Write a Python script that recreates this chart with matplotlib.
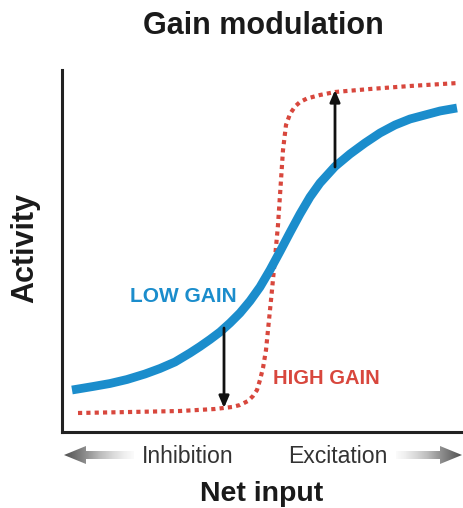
import numpy as np
import matplotlib
matplotlib.use("Agg")
import matplotlib.pyplot as plt
from matplotlib.patches import Polygon

plt.rcParams["font.family"] = ["Liberation Sans", "DejaVu Sans"]

# curves (arbitrary units: net input 0-402, activity 0-362)
low_x = [10, 31, 48, 65, 83, 98, 113, 128, 138, 148, 158, 168, 178, 188, 198,
         208, 218, 228, 238, 248, 258, 273, 288, 303, 318, 333, 348, 363, 378,
         395]
low_y = [42, 45.5, 48.5, 52.5, 58, 63.5, 70, 79, 85.5, 92.5, 100, 109, 119,
         131, 145, 162, 180.5, 199.5, 218, 235, 249, 265.5, 278, 289, 299, 307,
         313, 317, 321, 324]
high_x = [16, 68, 118, 153, 170, 178, 186, 191, 195, 198, 201, 204, 207, 210,
          213, 216, 218, 220, 221, 224, 228, 233, 238, 245, 258, 273, 308, 348,
          396]
high_y = [19, 20, 21, 23, 25, 27, 31, 36, 42, 52, 64, 82, 112, 142,
          174, 207, 237, 267, 282, 307, 318, 325.5, 330, 333.5, 337, 340, 343,
          346, 349]

# gain-change arrows: x, from (low gain), to (high gain)
arrow_x = [162, 273]
arrow_from = [104, 265]
arrow_to = [24, 342]

BLUE = "#1b8dcc"
RED = "#d8473d"
W, H = 464, 508

fig = plt.figure(figsize=(W / 100, H / 100), dpi=100)
ax = fig.add_axes([62 / W, 76 / H, 402 / W, 362 / H])
ax.set_xlim(0, 402)
ax.set_ylim(0, 362)

ax.plot(low_x, low_y, color=BLUE, lw=6.3, solid_capstyle="butt",
        solid_joinstyle="round", zorder=3)
ax.plot(high_x, high_y, color=RED, lw=3, linestyle=(0, (1, 1)),
        dash_capstyle="butt", zorder=2)

for x, y0, y1 in zip(arrow_x, arrow_from, arrow_to):
    ax.annotate("", xy=(x, y1), xytext=(x, y0),
                arrowprops=dict(arrowstyle="-|>,head_length=0.7,head_width=0.3",
                                color="#111111", lw=2, shrinkA=0, shrinkB=0),
                zorder=4)

ax.text(121, 135, "LOW GAIN", color=BLUE, fontsize=15, fontweight="bold",
        ha="center", va="center")
ax.text(264, 53, "HIGH GAIN", color=RED, fontsize=14.5, fontweight="bold",
        ha="center", va="center")

for side in ("top", "right"):
    ax.spines[side].set_visible(False)
for side in ("left", "bottom"):
    ax.spines[side].set_linewidth(2.2)
    ax.spines[side].set_color("#222222")
ax.set_xticks([])
ax.set_yticks([])

# labels
fig.text(263 / W, 1 - 34 / H, "Gain modulation", fontsize=22,
         fontweight="bold", ha="center", va="baseline", color="#1a1a1a")
fig.text(262 / W, 1 - 501 / H, "Net input", fontsize=20.5,
         fontweight="bold", ha="center", va="baseline", color="#1a1a1a")
fig.text(25 / W, 1 - 248 / H, "Activity", fontsize=22, rotation=90,
         fontweight="bold", ha="center", va="center", color="#1a1a1a")
fig.text(188 / W, 1 - 463 / H, "Inhibition", fontsize=16.6,
         ha="center", va="baseline", color="#333333")
fig.text(338 / W, 1 - 463 / H, "Excitation", fontsize=16.6,
         ha="center", va="baseline", color="#333333")

# grey gradient arrows under the axis
ov = fig.add_axes([0, 0, 1, 1], zorder=-1)
ov.set_xlim(0, W)
ov.set_ylim(H, 0)
ov.axis("off")


def grad_arrow(x_tip, x_tail, yc):
    d = 1 if x_tail > x_tip else -1
    head = 22
    pts = [(x_tip, yc), (x_tip + d * head, yc - 9), (x_tip + d * head, yc - 4),
           (x_tail, yc - 4), (x_tail, yc + 4), (x_tip + d * head, yc + 4),
           (x_tip + d * head, yc + 9)]
    poly = Polygon(pts, closed=True, facecolor="none", edgecolor="none")
    ov.add_patch(poly)
    g = np.linspace(0, 1, 256)[None, :]
    if d < 0:
        g = g[:, ::-1]
    x0, x1 = sorted((x_tip, x_tail))
    im = ov.imshow(g, cmap="Greys_r", vmin=-0.35, vmax=1.05, aspect="auto",
                   extent=(x0, x1, yc + 10, yc - 10), interpolation="bilinear")
    im.set_clip_path(poly)


grad_arrow(64, 134, 455)
grad_arrow(462, 396, 455)

fig.savefig("out.png", dpi=100)
